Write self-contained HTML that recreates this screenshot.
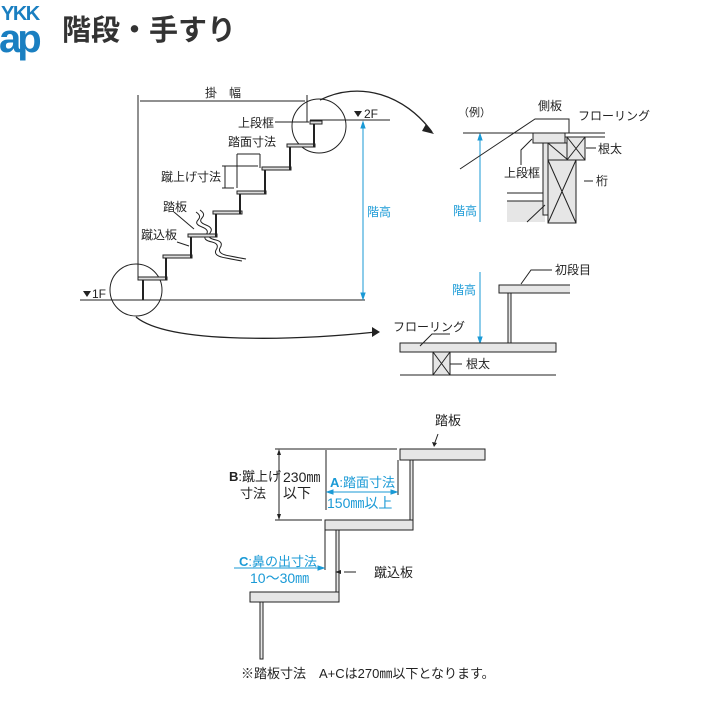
<!DOCTYPE html>
<html><head><meta charset="utf-8"><style>
html,body{margin:0;padding:0;background:#fff;width:720px;height:720px;overflow:hidden}
svg{display:block}
text{font-family:"Liberation Sans","Noto Sans CJK JP",sans-serif;fill:#222}
.b{fill:#1a9ad6}
</style></head><body>
<svg width="720" height="720" viewBox="0 0 720 720" xmlns="http://www.w3.org/2000/svg">
<!-- logo -->
<text x="1" y="20" font-size="20" font-weight="bold" style="fill:#1a7fc1" letter-spacing="-1.5">YKK</text>
<text x="-1" y="52" font-size="40" font-weight="bold" style="fill:#1a7fc1" letter-spacing="-4">ap</text>
<text x="62" y="40" font-size="29" font-weight="bold" style="fill:#333">階段・手すり</text>

<g stroke="#222" fill="none" stroke-width="1">
<line x1="138" y1="95" x2="138" y2="277"/>
<line x1="307" y1="95" x2="307" y2="122"/>
<line x1="140" y1="101" x2="305" y2="101"/>
<line x1="80" y1="300" x2="365" y2="300"/>
<line x1="310" y1="120" x2="390" y2="120"/>
<circle cx="136" cy="290" r="26"/>
<circle cx="319" cy="126" r="27"/>
<path d="M136 317 C170 345 300 340 376 332" stroke-width="1.3"/>
<path d="M320 100 C360 80 405 95 432 132" stroke-width="1.3"/>
<line x1="237" y1="154" x2="260" y2="154"/>
<line x1="237" y1="154" x2="237" y2="188"/>
<line x1="260" y1="154" x2="260" y2="168"/>
<line x1="222" y1="166" x2="258" y2="166"/>
<line x1="222" y1="188" x2="234" y2="188"/>
<line x1="225" y1="166" x2="225" y2="188"/>
<line x1="275" y1="122" x2="309" y2="122"/>
<line x1="174" y1="212" x2="194" y2="229"/>
<line x1="177" y1="242" x2="189" y2="246"/>
<path d="M196 212 q6 4 2 8 q-4 4 4 7 q8 3 4 8 q-4 5 6 7 q8 2 4 8 q-3 6 10 8 q10 2 16 3" />
<path d="M200 210 q6 4 2 8 q-4 4 4 7 q8 3 4 8 q-4 5 6 7 q8 2 4 8 q-3 6 10 8 q10 2 16 3" />
</g>
<g stroke="#1a9ad6" stroke-width="1" fill="#1a9ad6">
<line x1="363" y1="123" x2="363" y2="298"/>
<path d="M361 128 L363 122 L365 128Z M361 293 L363 299 L365 293Z"/>
<line x1="480" y1="135" x2="480" y2="222"/>
<path d="M478 140 L480 134 L482 140Z"/>
<line x1="480" y1="272" x2="480" y2="342"/>
<path d="M478 337 L480 343 L482 337Z"/>
</g>
<g stroke="#222" stroke-width="1" fill="#ddd">
<rect x="138" y="277" width="29" height="3"/>
<rect x="163" y="255" width="29" height="3"/>
<rect x="188" y="234" width="29" height="3"/>
<rect x="213" y="211" width="29" height="3"/>
<rect x="237" y="191" width="29" height="3"/>
<rect x="262" y="167" width="29" height="3"/>
<rect x="287" y="144" width="28" height="3"/>
<rect x="310" y="121" width="12" height="3"/>
</g>
<g stroke="#222" stroke-width="2" fill="none">
<path d="M143 280 V300 M166 258 V280 M191 237 V258 M216 214 V237 M240 194 V214 M265 170 V194 M290 147 V170 M314 124 V147"/>
</g>
<path d="M83 291 L91 291 L87 297Z M354 111 L362 111 L358 117Z" fill="#222"/>
<path d="M426 124 L434 134 L422 131Z M372 327 L380 332 L372 337Z" fill="#222"/>
<text x="92" y="298" font-size="12">1F</text>
<text x="364" y="118" font-size="12">2F</text>
<text x="205" y="97" font-size="12">掛　幅</text>
<text x="238" y="127" font-size="12">上段框</text>
<text x="228" y="146" font-size="12">踏面寸法</text>
<text x="161" y="181" font-size="12">蹴上げ寸法</text>
<text x="163" y="211" font-size="12">踏板</text>
<text x="141" y="239" font-size="12">蹴込板</text>
<text x="367" y="216" font-size="12" class="b">階高</text>

<g stroke="#222" stroke-width="1" fill="#e6e6e6">
<rect x="507" y="201" width="38" height="21" stroke="none"/>
<line x1="507" y1="193" x2="543" y2="193" fill="none"/>
<line x1="507" y1="201" x2="543" y2="201" fill="none"/>
<rect x="543" y="143" width="5" height="72"/>
<rect x="548" y="143" width="20" height="17"/>
<path d="M548 143 L568 160" fill="none"/>
<rect x="548" y="160" width="28" height="63"/>
<path d="M548 160 L576 223 M576 160 L548 223" fill="none"/>
<rect x="567" y="137" width="18" height="23"/>
<path d="M567 137 L585 160 M585 137 L567 160" fill="none"/>
<rect x="533" y="133" width="32" height="10"/>
<line x1="463" y1="133" x2="533" y2="133" fill="none"/>
<line x1="563" y1="133" x2="605" y2="133" fill="none"/>
<line x1="565" y1="137" x2="605" y2="137" fill="none"/>
<path d="M460 169 L535 119 L569 119 L569 133 M521 165 V150 L532 139 M527 222 L545 205 M586 148 H596 M584 181 H593" fill="none"/>
</g>
<text x="458" y="116" font-size="11">（例）</text>
<text x="538" y="110" font-size="12">側板</text>
<text x="578" y="120" font-size="12">フローリング</text>
<text x="598" y="153" font-size="12">根太</text>
<text x="504" y="177" font-size="12">上段框</text>
<text x="596" y="185" font-size="12">桁</text>
<text x="453" y="215" font-size="12" class="b">階高</text>

<g stroke="#222" stroke-width="1" fill="#e6e6e6">
<rect x="400" y="343" width="156" height="9"/>
<line x1="400" y1="375" x2="556" y2="375"/>
<rect x="433" y="352" width="17" height="23"/>
<path d="M433 352 L450 375 M450 352 L433 375" fill="none"/>
<path d="M570 285 H499 V293 H570" />
<rect x="508" y="293" width="3" height="50"/>
<path d="M521 284 L531 270 H552 M450 364 H462 M420 346 L432 334 H450" fill="none"/>
</g>
<text x="555" y="274" font-size="12">初段目</text>
<text x="452" y="294" font-size="12" class="b">階高</text>
<text x="393" y="331" font-size="12">フローリング</text>
<text x="466" y="368" font-size="12">根太</text>

<g stroke="#222" stroke-width="1" fill="#e6e6e6">
<rect x="400" y="449" width="85" height="11"/>
<rect x="410" y="460" width="3" height="70"/>
<rect x="325" y="520" width="88" height="10"/>
<rect x="336" y="530" width="3" height="72"/>
<rect x="250" y="592" width="89" height="10"/>
<rect x="260" y="602" width="3" height="57"/>
<path d="M275 449 H397 M275 520 H322 M326 450 V510 M398 460 V495 M325 530 V570 M279 452 V517 M344 572 H356 M438 434 L434 445" fill="none"/>
</g>
<g stroke="#1a9ad6" fill="#1a9ad6">
<line x1="328" y1="492" x2="396" y2="492"/>
<path d="M333 490 L327 492 L333 494Z M391 490 L397 492 L391 494Z"/>
<line x1="234" y1="568" x2="323" y2="568"/>
<path d="M318 566 L324 568 L318 570Z"/>
</g>
<path d="M277 455 L279 449 L281 455Z M277 514 L279 520 L281 514Z M341 570 L335 572 L341 574Z M432 442 L434 447 L437 443Z" fill="#222"/>
<text x="435" y="425" font-size="13">踏板</text>
<text x="229" y="481" font-size="13"><tspan font-weight="bold">B</tspan>:蹴上げ</text>
<text x="240" y="498" font-size="13">寸法</text>
<text x="283" y="482" font-size="14">230㎜</text>
<text x="283" y="498" font-size="14">以下</text>
<text x="330" y="487" font-size="13" class="b"><tspan font-weight="bold">A</tspan>:踏面寸法</text>
<text x="327" y="508" font-size="14" class="b">150㎜以上</text>
<text x="239" y="566" font-size="13" class="b"><tspan font-weight="bold">C</tspan>:鼻の出寸法</text>
<text x="250" y="583" font-size="14" class="b">10～30㎜</text>
<text x="374" y="577" font-size="13">蹴込板</text>
<text x="241" y="678" font-size="13">※踏板寸法　A+Cは270㎜以下となります。</text>
</svg>
</body></html>
